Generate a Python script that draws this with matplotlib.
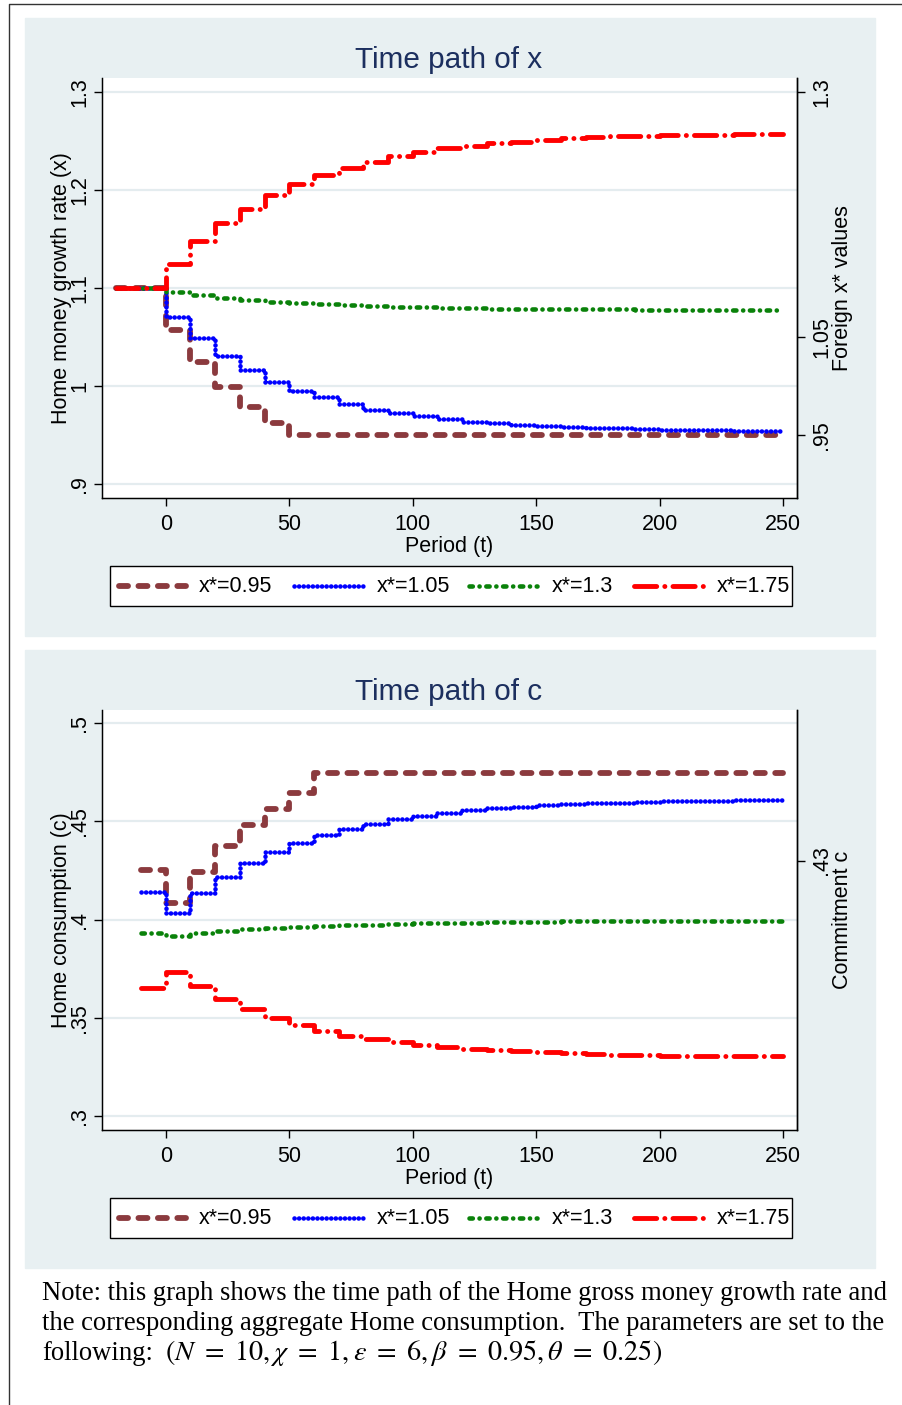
import matplotlib
matplotlib.use("Agg")
import matplotlib.pyplot as plt
from matplotlib.patches import Rectangle
from matplotlib.lines import Line2D

plt.rcParams['font.family'] = ['Liberation Sans', 'DejaVu Sans']
plt.rcParams['lines.scale_dashes'] = False
plt.rcParams['mathtext.fontset'] = 'stix'

# ---- data (step values, one per 10-period block) ----
t_x = [-20, 0, 10, 20, 30, 40, 50, 60, 70, 80, 90, 100, 110, 120, 130,
       140, 150, 160, 170, 180, 190, 200, 210, 220, 230, 240, 250]
x_095 = [1.100, 1.0571, 1.0248, 0.9993, 0.9789, 0.9626, 0.9505, 0.9505, 0.9505,
         0.9505, 0.9505, 0.9505, 0.9505, 0.9505, 0.9505, 0.9505, 0.9505, 0.9505,
         0.9505, 0.9505, 0.9505, 0.9505, 0.9505, 0.9505, 0.9505, 0.9505, 0.9505]
x_105 = [1.100, 1.0707, 1.0487, 1.0306, 1.0163, 1.0044, 0.9949, 0.9885, 0.9813,
         0.9758, 0.9724, 0.9690, 0.9660, 0.9636, 0.9618, 0.9605, 0.9594, 0.9584,
         0.9575, 0.9567, 0.9561, 0.9556, 0.9551, 0.9548, 0.9545, 0.9542, 0.9540]
x_130 = [1.100, 1.0960, 1.0925, 1.0898, 1.0875, 1.0857, 1.0844, 1.0833, 1.0823,
         1.0815, 1.0808, 1.0802, 1.0797, 1.0793, 1.0790, 1.0788, 1.0786, 1.0784,
         1.0782, 1.0781, 1.0780, 1.0779, 1.0778, 1.0778, 1.0777, 1.0777, 1.0777]
x_175 = [1.100, 1.1250, 1.1480, 1.1666, 1.1810, 1.1950, 1.2058, 1.2155, 1.2228,
         1.2289, 1.2345, 1.2388, 1.2424, 1.2452, 1.2476, 1.2493, 1.2510, 1.2527,
         1.2540, 1.2548, 1.2553, 1.2558, 1.2562, 1.2565, 1.2568, 1.2570, 1.2571]

t_c = [-10, 0, 10, 20, 30, 40, 50, 60, 70, 80, 90, 100, 110, 120, 130,
       140, 150, 160, 170, 180, 190, 200, 210, 220, 230, 240, 250]
c_095 = [0.4252, 0.4086, 0.4240, 0.4376, 0.4480, 0.4562, 0.4642, 0.4744, 0.4744,
         0.4744, 0.4744, 0.4744, 0.4744, 0.4744, 0.4744, 0.4744, 0.4744, 0.4744,
         0.4744, 0.4744, 0.4744, 0.4744, 0.4744, 0.4744, 0.4744, 0.4744, 0.4744]
c_105 = [0.4142, 0.4032, 0.4136, 0.4218, 0.4289, 0.4345, 0.4391, 0.4430, 0.4461,
         0.4486, 0.4510, 0.4527, 0.4544, 0.4557, 0.4566, 0.4574, 0.4581, 0.4586,
         0.4591, 0.4595, 0.4598, 0.4601, 0.4603, 0.4605, 0.4606, 0.4607, 0.4608]
c_130 = [0.3930, 0.3916, 0.3930, 0.3943, 0.3952, 0.3958, 0.3963, 0.3966, 0.3971,
         0.3974, 0.3977, 0.3980, 0.3982, 0.3984, 0.3986, 0.3988, 0.3989, 0.3990,
         0.3991, 0.3992, 0.3993, 0.3993, 0.3994, 0.3994, 0.3994, 0.3994, 0.3994]
c_175 = [0.3650, 0.3734, 0.3662, 0.3594, 0.3543, 0.3499, 0.3462, 0.3433, 0.3409,
         0.3390, 0.3377, 0.3360, 0.3350, 0.3341, 0.3336, 0.3330, 0.3324, 0.3319,
         0.3315, 0.3312, 0.3310, 0.3308, 0.3306, 0.3305, 0.3304, 0.3303, 0.3303]

labels = ["x*=0.95", "x*=1.05", "x*=1.3", "x*=1.75"]
x_ticks = [0, 50, 100, 150, 200, 250]

# ---- styling ----
colors = ['#8b3a3e', '#0000ff', '#0a820a', '#ff0000']
dashes = [(0, (6.5, 7.5)), (0, (0.1, 3.2)), (0, (2.4, 4.8, 0.1, 4.8)), (0, (16, 5.8, 0.1, 5.8))]
widths = [4.2, 3.3, 3.3, 3.5]
bg = '#e8f0f2'
gridc = '#e4ecef'
navy = '#1c2f5f'
FS = 15.5

W, H = 903, 1405
fig = plt.figure(figsize=(W / 100, H / 100), dpi=100)


def box(l, t, r, b):
    return [l / W, 1 - b / H, (r - l) / W, (b - t) / H]


# outer frame (top and left)
fig.add_artist(Line2D([9.5 / W, 9.5 / W, 1], [0, 1 - 3.5 / H, 1 - 3.5 / H],
                      transform=fig.transFigure, color='#333333', lw=1))


def panel(off, t, ys, ylim, yticks, ylabs, rticks, rlabs, ylab, rlab, title):
    fig.patches.append(Rectangle((25 / W, 1 - (636 + off) / H), 850 / W, 618 / H,
                                 transform=fig.transFigure, color=bg, zorder=-10))
    ax = fig.add_axes(box(102, 78 + off, 797, 498 + off))
    ax.set_facecolor('white')
    for y, c, d, w in zip(ys, colors, dashes, widths):
        ax.plot(t, y, color=c, linestyle=d, lw=w, drawstyle='steps-post',
                dash_capstyle='round', solid_capstyle='round')
    ax.set_xlim(-25.8, 255.6)
    ax.set_ylim(*ylim)
    ax.set_xticks(x_ticks)
    ax.set_yticks(yticks)
    ax.set_yticklabels(ylabs, rotation=90, va='center')
    ax.grid(axis='y', color=gridc, lw=1.6)
    ax.set_axisbelow(True)
    ax.tick_params(axis='both', direction='out', length=5.8, width=1, labelsize=FS,
                   color='black')
    ax.tick_params(axis='y', pad=2.5)
    ax.tick_params(axis='x', pad=5.5)
    ax.spines['top'].set_visible(False)
    for s in ['left', 'bottom', 'right']:
        ax.spines[s].set_linewidth(1)

    ax2 = ax.twinx()
    ax2.set_ylim(*ylim)
    ax2.set_yticks(rticks)
    ax2.set_yticklabels(rlabs, rotation=90, va='center')
    ax2.tick_params(axis='y', direction='out', length=5.8, width=1, labelsize=FS, pad=4.5)
    ax2.spines['top'].set_visible(False)
    ax2.spines['right'].set_linewidth(1)

    fig.text(62 / W, 1 - (288 + off) / H, ylab, rotation=90, ha='center', va='center',
             fontsize=FS)
    fig.text(843 / W, 1 - (288 + off) / H, rlab, rotation=90, ha='center', va='center',
             fontsize=FS)
    fig.text(449.5 / W, 1 - (552 + off) / H, "Period (t)", ha='center', va='baseline',
             fontsize=FS)
    fig.text(449 / W, 1 - (68 + off) / H, title, ha='center', va='baseline',
             fontsize=21.4, color=navy)

    # legend
    yc = 1 - (586 + off) / H
    fig.patches.append(Rectangle((110 / W, 1 - (606 + off) / H), 682 / W, 40 / H,
                                 transform=fig.transFigure, facecolor='white',
                                 edgecolor='black', lw=1, zorder=1))
    samples = [(119, 186), (294, 366), (469, 537), (634, 705)]
    text_x = [199, 377, 552, 717]
    for (x0, x1), tx, lab, c, d, w in zip(samples, text_x, labels, colors, dashes, widths):
        fig.add_artist(Line2D([x0 / W, x1 / W], [yc, yc], transform=fig.transFigure,
                              color=c, linestyle=d, lw=w, dash_capstyle='round',
                              solid_capstyle='round', zorder=3))
        fig.text(tx / W, yc, lab, ha='left', va='center', fontsize=FS, zorder=3)


panel(0, t_x, [x_095, x_105, x_130, x_175], (0.8857, 1.3143),
      [0.9, 1.0, 1.1, 1.2, 1.3], ['.9', '1', '1.1', '1.2', '1.3'],
      [0.95, 1.05, 1.3], ['.95', '1.05', '1.3'],
      "Home money growth rate (x)", "Foreign x* values", "Time path of x")

panel(632, t_c, [c_095, c_105, c_130, c_175], (0.2929, 0.5066),
      [0.3, 0.35, 0.4, 0.45, 0.5], ['.3', '.35', '.4', '.45', '.5'],
      [0.43], ['.43'],
      "Home consumption (c)", "Commitment c", "Time path of c")

# note below the panels
serif = ['Liberation Serif', 'DejaVu Serif']
note = ["Note: this graph shows the time path of the Home gross money growth rate and",
        "the corresponding aggregate Home consumption.  The parameters are set to the",
        "following:"]
for i, line in enumerate(note):
    fig.text(42 / W, 1 - (1300 + 30 * i) / H, line, ha='left', va='baseline',
             fontsize=19.2, family=serif)
fig.text(165 / W, 1 - 1360 / H,
         r"$(N\ =\ 10,\chi\ =\ 1,\varepsilon\ =\ 6,\beta\ =\ 0.95,\theta\ =\ 0.25)$",
         ha='left', va='baseline', fontsize=20.3, family=serif)

fig.savefig("out.png", dpi=100)
